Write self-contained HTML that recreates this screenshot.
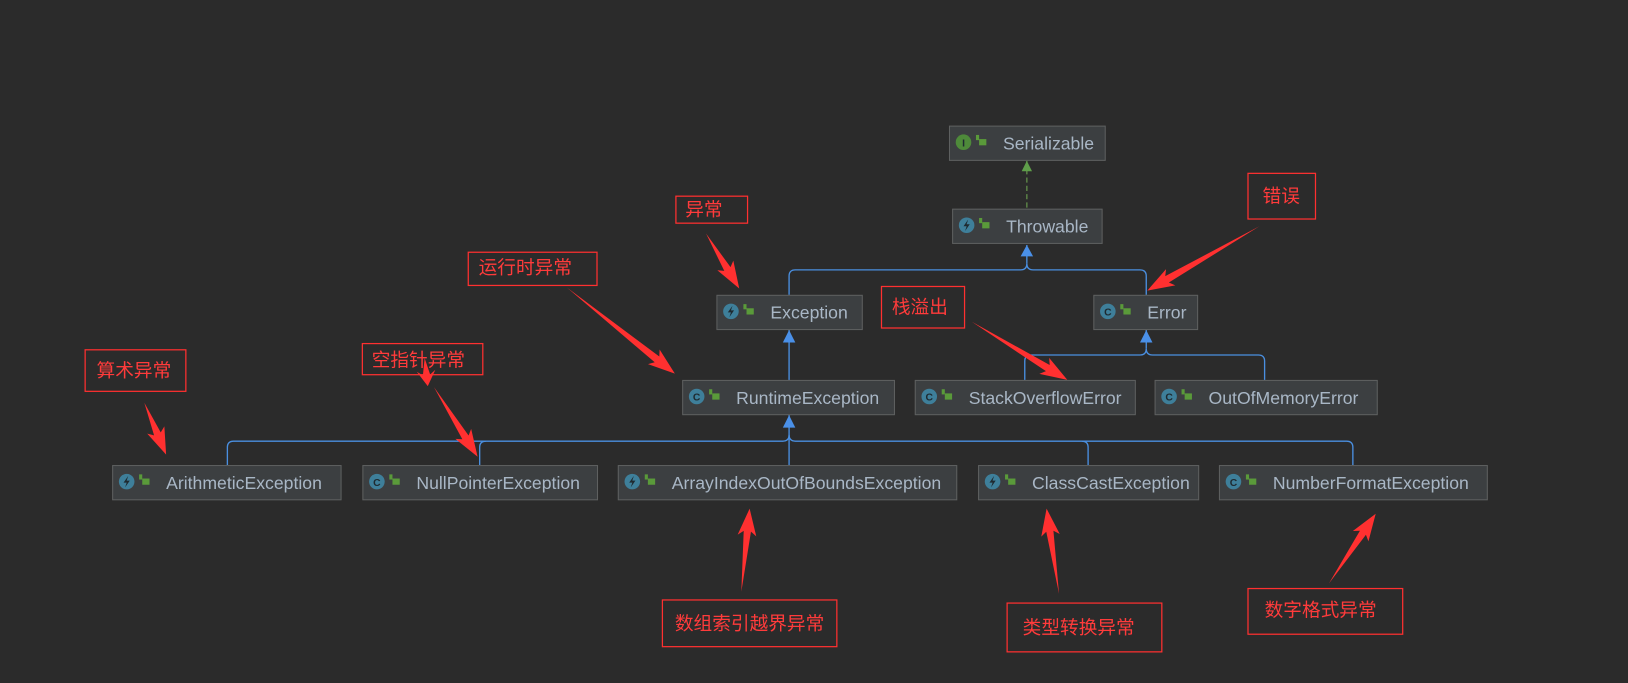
<!DOCTYPE html>
<html><head><meta charset="utf-8"><style>
html,body{margin:0;padding:0;background:#2b2b2b;}
svg{display:block}
.n rect.b{fill:#3c3f41;stroke:#5e6060;stroke-width:1}
.t{font-family:"Liberation Sans",sans-serif;font-size:17px;fill:#a9b7c6}
.r{font-family:"Liberation Sans","Noto Sans CJK SC",sans-serif;font-size:18px;fill:#ff3b3b}
.rb{fill:none;stroke:#ff3030;stroke-width:1.2}
.c{fill:none;stroke:#4a8fe0;stroke-width:1.3}
</style></head><body>
<svg id="s" width="1628" height="683" viewBox="0 0 1568 658" preserveAspectRatio="none" xmlns="http://www.w3.org/2000/svg">
<g id="nodes"></g>
<line x1="989" y1="155" x2="989" y2="201" stroke="#5f8a4a" stroke-width="1.3" stroke-dasharray="5,3"/>
<polygon points="989,155 984,165 994,165" fill="#5f9e4a"/>
<path class="c" d="M760,284 V266 Q760,260 766,260 H983 Q989,260 989,254 Q989,260 995,260 H1098 Q1104,260 1104,266 V284"/>
<line class="c" x1="989" y1="236" x2="989" y2="254"/>
<polygon points="989,236 983,247 995,247" fill="#4a90e8"/>
<line class="c" x1="760" y1="318" x2="760" y2="366"/>
<polygon points="760,318 754,330 766,330" fill="#4a90e8"/>
<path class="c" d="M987,366 V348 Q987,342 993,342 H1098 Q1104,342 1104,336 Q1104,342 1110,342 H1212 Q1218,342 1218,348 V366"/>
<line class="c" x1="1104" y1="318" x2="1104" y2="336"/>
<polygon points="1104,318 1098,330 1110,330" fill="#4a90e8"/>
<path class="c" d="M219,448 V431 Q219,425 225,425 H754 Q760,425 760,419 Q760,425 766,425 H1297 Q1303,425 1303,431 V448"/>
<path class="c" d="M462,448 V431 Q462,425 468,425"/>
<path class="c" d="M1048,448 V431 Q1048,425 1042,425"/>
<line class="c" x1="760" y1="400" x2="760" y2="448"/>
<polygon points="760,400 754,412 766,412" fill="#4a90e8"/>
<rect class="rb" x="651" y="189" width="69" height="26"/><text class="r" x="660" y="208">异常</text>
<rect class="rb" x="1202" y="167" width="65" height="44"/><text class="r" x="1216" y="195">错误</text>
<rect class="rb" x="451" y="243" width="124" height="32"/><text class="r" x="461" y="264">运行时异常</text>
<rect class="rb" x="849" y="276" width="80" height="40"/><text class="r" x="859" y="302">栈溢出</text>
<rect class="rb" x="82" y="337" width="97" height="40"/><text class="r" x="93" y="363">算术异常</text>
<rect class="rb" x="349" y="331" width="116" height="30"/><text class="r" x="358" y="353">空指针异常</text>
<rect class="rb" x="638" y="578" width="168" height="45"/><text class="r" x="650" y="607">数组索引越界异常</text>
<rect class="rb" x="970" y="581" width="149" height="47"/><text class="r" x="985" y="611">类型转换异常</text>
<rect class="rb" x="1202" y="567" width="149" height="44"/><text class="r" x="1218" y="594">数字格式异常</text>
<g id="arrows"></g>
</svg>
<script>
var nodes=[
["Serializable",914,121,150,"I","#4e8a3a"],
["Throwable",917,201,144,"T","#3e7f9a"],
["Exception",690,284,140,"T","#3e7f9a"],
["Error",1053,284,100,"C","#3e7f9a"],
["RuntimeException",657,366,204,"C","#3e7f9a"],
["StackOverflowError",881,366,212,"C","#3e7f9a"],
["OutOfMemoryError",1112,366,214,"C","#3e7f9a"],
["ArithmeticException",108,448,220,"T","#3e7f9a"],
["NullPointerException",349,448,226,"C","#3e7f9a"],
["ArrayIndexOutOfBoundsException",595,448,326,"T","#3e7f9a"],
["ClassCastException",942,448,212,"T","#3e7f9a"],
["NumberFormatException",1174,448,258,"C","#3e7f9a"]];
var g=document.getElementById("nodes"),h="";
nodes.forEach(function(n){
 var x=n[1],y=n[2],w=n[3];
 h+='<g class="n"><rect class="b" x="'+(x+0.5)+'" y="'+(y+0.5)+'" width="'+w+'" height="33"/>';
 h+='<circle cx="'+(x+14)+'" cy="'+(y+16)+'" r="7.5" fill="'+n[5]+'"/>';
 if(n[4]=="T"){
  h+='<polygon points="'+(x+15.5)+','+(y+10.5)+' '+(x+11)+','+(y+17)+' '+(x+14)+','+(y+17)+' '+(x+12.5)+','+(y+21.5)+' '+(x+17)+','+(y+15)+' '+(x+14)+','+(y+15)+'" fill="#1e2a30"/>';
 } else {
  h+='<text x="'+(x+14)+'" y="'+(y+20)+'" text-anchor="middle" font-family="Liberation Sans,sans-serif" font-size="10" font-weight="bold" fill="#1e2a30">'+n[4]+'</text>';
 }
 h+='<rect x="'+(x+29)+'" y="'+(y+13)+'" width="7" height="6" fill="#5a9a3a"/><rect x="'+(x+26)+'" y="'+(y+9)+'" width="3" height="5" fill="#5a9a3a"/>';
 h+='<text class="t" x="'+(x+52)+'" y="'+(y+23)+'">'+n[0]+'</text></g>';
});
g.innerHTML=h;
var arr=[[680,225,712,278],[1213,218,1105,280],[546,277,650,360],[936,310,1028,366],[139,388,160,438],[418,373,460,440],[409,345,412,372],[714,570,722,490],[1020,572,1008,490],[1280,562,1325,495]];
var a="";
arr.forEach(function(p){
 var x1=p[0],y1=p[1],x2=p[2],y2=p[3],dx=x2-x1,dy=y2-y1,L=Math.sqrt(dx*dx+dy*dy),ux=dx/L,uy=dy/L,nx=-uy,ny=ux;
 var hl=Math.min(22,L*0.4),hw=9,sw=3.5;
 var bx=x2-ux*hl,by=y2-uy*hl;
 var pts=[[x1,y1],[bx+nx*sw,by+ny*sw],[bx+nx*hw-ux*4,by+ny*hw-uy*4],[x2,y2],[bx-nx*hw-ux*4,by-ny*hw-uy*4],[bx-nx*sw,by-ny*sw]];
 a+='<polygon fill="#ff3030" points="'+pts.map(function(q){return q[0].toFixed(1)+","+q[1].toFixed(1)}).join(" ")+'"/>';
});
document.getElementById("arrows").innerHTML=a;
</script>
</body></html>
